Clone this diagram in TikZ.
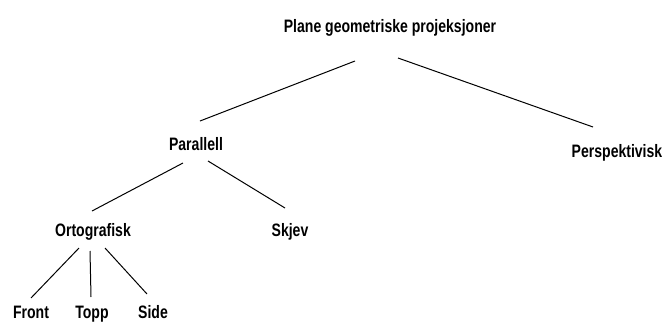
\documentclass[tikz,border=0pt]{standalone}
\usepackage{fontspec}
\setmainfont{Liberation Sans}[FakeStretch=0.78]
\begin{document}
\begin{tikzpicture}[x=1pt,y=-1pt,
  lbl/.style={inner sep=0pt, anchor=base, font=\bfseries\fontsize{18}{20}\selectfont},
  edge/.style={draw=black, line width=1pt}]
\useasboundingbox (0,0) rectangle (665,322);
\node[lbl] (title) at (390,32) {Plane geometriske projeksjoner};
\node[lbl] (par) at (196,150) {Parallell};
\node[lbl] (persp) at (617,157) {Perspektivisk};
\node[lbl] (orto) at (93,236) {Ortografisk};
\node[lbl] (skjev) at (290,236) {Skjev};
\node[lbl] (front) at (31,318) {Front};
\node[lbl] (topp) at (92,318) {Topp};
\node[lbl] (side) at (153,318) {Side};
\draw[edge] ([shift={(-35,29)}]title.base) -- ([shift={(4,-29)}]par.base);
\draw[edge] ([shift={(8,26)}]title.base) -- ([shift={(-24,-30)}]persp.base);
\draw[edge] ([shift={(-13,13)}]par.base) -- ([shift={(-1,-25)}]orto.base);
\draw[edge] ([shift={(12,11)}]par.base) -- ([shift={(-5,-28)}]skjev.base);
\draw[edge] ([shift={(-14,12)}]orto.base) -- ([shift={(0,-20)}]front.base);
\draw[edge] ([shift={(-3,15)}]orto.base) -- ([shift={(-1,-21)}]topp.base);
\draw[edge] ([shift={(12,12)}]orto.base) -- ([shift={(-6,-24)}]side.base);
\end{tikzpicture}
\end{document}
